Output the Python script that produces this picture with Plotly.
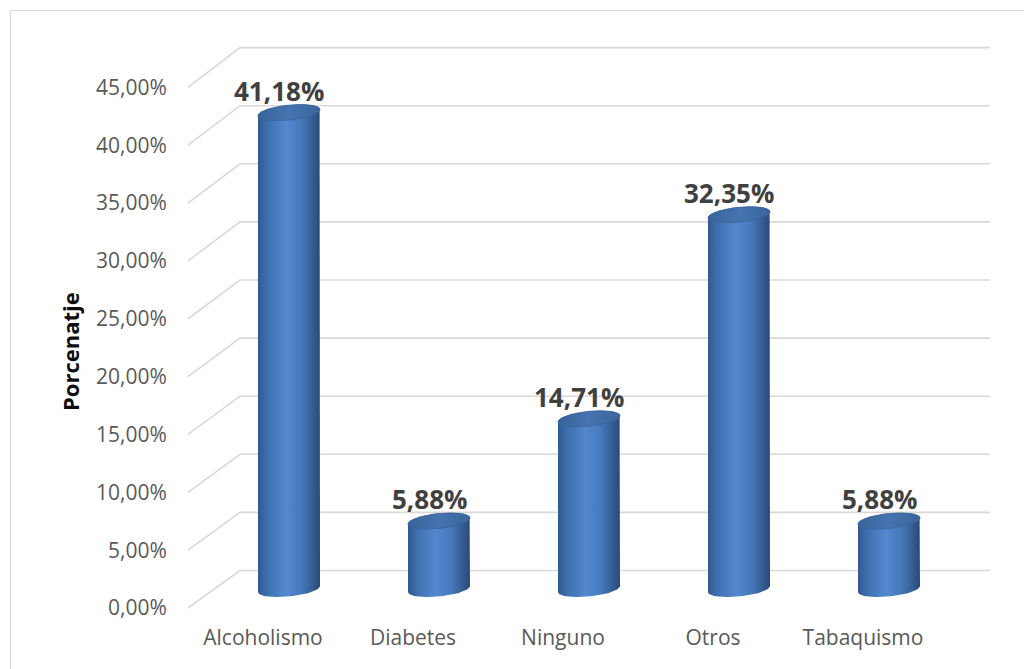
import numpy as np
import plotly.graph_objects as go

# ---- data -------------------------------------------------------------
categories = ["Alcoholismo", "Diabetes", "Ninguno", "Otros", "Tabaquismo"]
percentages = [41.18, 5.88, 14.71, 32.35, 5.88]
value_labels = ["41,18%", "5,88%", "14,71%", "32,35%", "5,88%"]
tick_values = [0, 5, 10, 15, 20, 25, 30, 35, 40, 45]
tick_labels = ["0,00%", "5,00%", "10,00%", "15,00%", "20,00%",
               "25,00%", "30,00%", "35,00%", "40,00%", "45,00%"]
y_title = "Porcenatje"

# ---- page geometry (pixels) --------------------------------------------
W, H = 1024, 669
PL, PR, PT, PB = 180, 1010, 15, 612          # plot area edges
X0_PX, X_STEP = 263, 150                     # front-plane category spacing
Y0_PX, Y_STEP = 608, 11.57                   # front-plane 0 % and px per %
BACK_DX, BACK_Y0, BACK_STEP = 52, 570.5, 11.62
WALL_END_PX = 990


def px_to_x(px):
    return (px - X0_PX) / X_STEP


def py_to_y(py):
    return (Y0_PX - py) / Y_STEP


def paper_x(px):
    return (px - PL) / (PR - PL)


def paper_y(py):
    return (PB - py) / (PB - PT)


x_range = [px_to_x(PL), px_to_x(PR)]
y_range = [py_to_y(PB), py_to_y(PT)]

fig = go.Figure()

# ---- side wall diagonals + back wall gridlines --------------------------
gx, gy = [], []
for v in tick_values:
    y_front = v
    y_back = py_to_y(BACK_Y0 - BACK_STEP * v)
    x_front = px_to_x(X0_PX - 75)
    x_back = px_to_x(X0_PX - 75 + BACK_DX)
    gx += [x_front, x_back, px_to_x(WALL_END_PX), None]
    gy += [y_front, y_back, y_back, None]
fig.add_trace(go.Scatter(x=gx, y=gy, mode="lines",
                         line=dict(color="#d9d9d9", width=1.6),
                         hoverinfo="skip", cliponaxis=False))

# ---- cylinders -----------------------------------------------------------
BAR_DX = 26 / X_STEP          # bars sit half-way into the depth
A = 31 / X_STEP               # cylinder radius (x units)
B = 7.5 / Y_STEP              # ellipse half-height (y units)
S = 3.0 / Y_STEP              # slight tilt of the ellipses
BASE = py_to_y(589)

body_scale = [[0.0, "#31598f"], [0.15, "#3f6fae"], [0.45, "#5389d0"],
              [0.7, "#4678bb"], [0.9, "#33598e"], [1.0, "#2a4a75"]]
top_scale = [[0.0, "#38639a"], [0.5, "#4674b0"], [1.0, "#3a659c"]]


def ellipse(cx, cy, t):
    return cx + A * np.cos(t), cy + B * np.sin(t) + S * np.cos(t)


for i, val in enumerate(percentages):
    cx = i + BAR_DX
    top = BASE + val
    t_low = np.linspace(np.pi, 2 * np.pi, 40)
    t_up = np.linspace(0, np.pi, 40)
    bx, by = ellipse(cx, BASE, t_low)
    tx, ty = ellipse(cx, top, t_up)
    xs = np.concatenate([bx, tx, bx[:1]])
    ys = np.concatenate([by, ty, by[:1]])
    fig.add_trace(go.Scatter(
        x=xs, y=ys, mode="lines", fill="toself",
        line=dict(width=0, color="rgba(0,0,0,0)"),
        fillgradient=dict(type="horizontal", colorscale=body_scale,
                          start=cx - A, stop=cx + A),
        hoverinfo="skip"))
    t_all = np.linspace(0, 2 * np.pi, 80)
    ex, ey = ellipse(cx, top, t_all)
    fig.add_trace(go.Scatter(
        x=ex, y=ey, mode="lines", fill="toself",
        line=dict(width=0.8, color="#3a6399"),
        fillgradient=dict(type="horizontal", colorscale=top_scale,
                          start=cx - A, stop=cx + A),
        hoverinfo="skip"))
    fig.add_annotation(x=cx, y=top, text=value_labels[i], showarrow=False,
                       yanchor="middle", yshift=22, xshift=-10,
                       font=dict(family="Open Sans", size=26,
                                 color="#404040", weight="bold"))

# ---- axis title ------------------------------------------------------------
fig.add_annotation(xref="paper", yref="paper", x=paper_x(70), y=paper_y(351),
                   xanchor="center", yanchor="middle",
                   text=f"<b>{y_title}</b>", textangle=-90, showarrow=False,
                   font=dict(family="Open Sans", size=22, color="#0d0d0d"))

# ---- chart border ----------------------------------------------------------
fig.add_shape(type="rect", xref="paper", yref="paper",
              x0=paper_x(10.5), x1=paper_x(1040),
              y0=paper_y(690), y1=paper_y(10.5),
              line=dict(color="#d9d9d9", width=1.2), layer="below")

fig.update_layout(
    width=W, height=H,
    margin=dict(l=PL, r=W - PR, t=PT, b=H - PB, pad=0),
    paper_bgcolor="white", plot_bgcolor="white",
    showlegend=False,
    font=dict(family="Open Sans", color="#595959"),
    xaxis=dict(range=x_range, tickvals=list(range(len(categories))),
               ticktext=categories, showgrid=False, zeroline=False,
               showline=False, ticks="outside", ticklen=7,
               tickcolor="rgba(0,0,0,0)",
               tickfont=dict(size=21, color="#595959"), fixedrange=True),
    yaxis=dict(range=y_range, tickvals=tick_values, ticktext=tick_labels,
               showgrid=False, zeroline=False, showline=False,
               ticks="outside", ticklen=8, tickcolor="rgba(0,0,0,0)",
               tickfont=dict(size=21, color="#595959"), fixedrange=True),
)

fig.write_html("out.html")
